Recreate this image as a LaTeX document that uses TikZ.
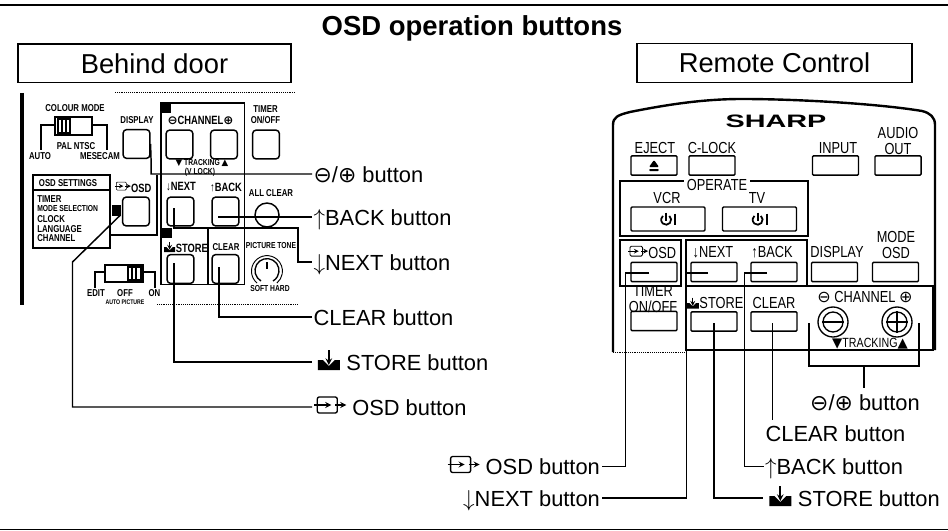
\documentclass[tikz,border=0pt]{standalone}
\usepackage{fontspec}
\setmainfont{Liberation Sans}
\newfontfamily\symfont{DejaVu Sans}
\newfontfamily\panelfont[FakeStretch=.78]{Liberation Sans}
\newfontfamily\remotefont[FakeStretch=.8]{Liberation Sans}
\newfontfamily\brandfont[FakeStretch=1.6]{Liberation Sans}
\newcommand{\osdicon}[1]{\tikz[x=#1*0.75pt,y=#1*0.75pt,baseline={(0,2)},line width=#1*1pt]{
        \draw[rounded corners=#1*1.5pt] (3,0) rectangle (23,16);
        \draw[->,>=stealth] (0,8) -- (17,8);
        \draw[->,>=stealth] (21,8) -- (32,8);}}
\newcommand{\storeicon}[1]{\tikz[x=#1*0.75pt,y=#1*0.75pt,baseline={(0,0)},line width=#1*1.2pt]{
        \fill (0,0) -- (22,0) -- (22,10) -- (17,10) -- (11,4) -- (5,10) -- (0,10) -- cycle;
        \draw[->,>=stealth] (11,20) -- (11,5);}}
\newcommand{\powericon}{\tikz[x=0.75pt,y=0.75pt,baseline={(0,-4)},line width=1.3pt]{
        \draw (3.2,3.8) arc (50:-230:5);
        \draw (0,7) -- (0,-1);
        \draw (9,6) -- (9,-5);}}
\newcommand{\ejecticon}{\tikz[x=0.75pt,y=0.75pt,baseline={(0,-4)}]{
        \fill (-5,-1) -- (5,-1) -- (0,6) -- cycle;
        \fill (-5,-5) rectangle (5,-3);}}
\tikzset{
    rule/.style={line width=1.4pt},
    titlebox/.style={draw, line width=1pt, inner sep=0pt, font=\fontsize{20.5}{24}\selectfont},
    biglabel/.style={inner xsep=1pt, inner ysep=0pt, text height=12pt, text depth=0pt, font=\fontsize{16.4}{18}\selectfont},
    leader/.style={line width=1.1pt},
    frameline/.style={line width=1.1pt},
    doorbtn/.style={draw, line width=1.1pt, rounded corners=2.5pt, inner sep=0pt, minimum width=20pt, minimum height=21.5pt},
    rcbtn/.style={draw, line width=1.1pt, rounded corners=.8pt, inner sep=0pt, minimum width=34.5pt, minimum height=14.5pt},
    rcwide/.style={rcbtn, minimum width=55.5pt, minimum height=18pt},
    doortext/.style={inner sep=0pt, font=\panelfont\bfseries\fontsize{7.5}{8}\selectfont},
    doorbig/.style={inner sep=0pt, font=\panelfont\bfseries\fontsize{9}{10}\selectfont},
    doorsmall/.style={inner sep=0pt, font=\panelfont\bfseries\fontsize{6.5}{7}\selectfont},
    remotetext/.style={inner sep=0pt, font=\remotefont\fontsize{12}{12}\selectfont},
    noise/.style={line width=.4pt, densely dotted}
}
\begin{document}
\begin{tikzpicture}[x=0.75pt,y=-0.75pt]
    \useasboundingbox (0,0) rectangle (948,531);
    \fill[white] (0,0) rectangle (948,531);
    \draw[rule] (0,5) -- (948,5);
    \draw[rule] (0,529.5) -- (948,529.5);
    \node[font=\bfseries\fontsize{20.6}{22}\selectfont, inner sep=0pt] (title) at (472,28) {OSD operation buttons};
    \node[titlebox, minimum width=204.75pt, minimum height=29pt] (behind) at (154.5,63.5) {Behind door};
    \node[titlebox, minimum width=206.25pt, minimum height=29pt] (remote) at (774.5,63) {Remote Control};

    % behind door panel
    \draw[line width=3pt] (21.5,93) -- (21.5,305);
    \draw[noise] (115,92) -- (295,92);
    \draw[noise] (157,304) -- (298,304);
    \node[doortext] (colour) at (75,108) {COLOUR MODE};
    \draw[line width=1.2pt, fill=white] (55,117) rectangle (92,135);
    \draw[line width=1pt] (58,119) rectangle (70,133);
    \draw[line width=1pt] (62,119) -- (62,133) (66,119) -- (66,133);
    \draw[line width=1.2pt] (55,125) -- (41,125) -- (41,150);
    \draw[line width=1.2pt] (92,125) -- (107,125) -- (107,150);
    \node[doortext] (palntsc) at (76,146) {PAL NTSC};
    \node[doortext] (auto) at (40,156.5) {AUTO};
    \node[doortext] (mesecam) at (100,156.5) {MESECAM};
    \node[doortext] (displayt) at (137,120) {DISPLAY};
    \node[doorbtn] (bDisplay) at (136.5,144) {};
    \draw[frameline] (161,103) rectangle (244.5,284.5);
    \fill (161,103) rectangle (171,113);
    \node[doorbig] (channelt) at (200.5,120) {{\symfont ⊖}CHANNEL{\symfont ⊕}};
    \node[doorbtn] (bMinus) at (179.5,144.5) {};
    \node[doorbtn] (bPlus) at (224,144.5) {};
    \node[doortext, align=center] (timert) at (265.5,114.5) {TIMER\\ON/OFF};
    \node[doorbtn] (bTimer) at (266,144.5) {};
    \node[doorsmall] (trackt) at (202,163) {{\symfont ▼} TRACKING {\symfont ▲}};
    \node[doorsmall] (vlock) at (200,172.5) {(V LOCK)};
    \draw[frameline] (33,175) rectangle (110,248);
    \draw[frameline] (33,190) -- (110,190);
    \draw[frameline] (110,235) -- (157,235) -- (157,175);
    \node[doortext] (settings) at (68,183) {OSD SETTINGS};
    \node[doortext, anchor=west] (item1) at (37,199) {TIMER};
    \node[doorsmall, anchor=west] (item2) at (37,209) {MODE SELECTION};
    \node[doortext, anchor=west] (item3) at (37,219) {CLOCK};
    \node[doortext, anchor=west] (item4) at (37,229) {LANGUAGE};
    \node[doortext, anchor=west] (item5) at (37,238.5) {CHANNEL};
    \node[doorbig] (osdt) at (133,187) {\osdicon{.5}OSD};
    \node[doorbtn] (bOsd) at (136,211.5) {};
    \fill (112,205) rectangle (121,216);
    \node[doorbig] (nextt) at (181,187) {↓NEXT};
    \node[doorbtn] (bNext) at (180.5,211.5) {};
    \node[doorbig] (backt) at (226,187) {↑BACK};
    \node[doorbtn] (bBack) at (225.5,211.5) {};
    \node[doortext] (allclear) at (271,193) {ALL CLEAR};
    \node[draw, circle, line width=1.1pt, minimum size=18pt, inner sep=0pt] (bAll) at (267,215) {};
    \fill (161,228) rectangle (172,238);
    \draw[frameline] (208,228) -- (208,284.5);
    \node[doorbig] (storet) at (186,247) {\storeicon{.5}\hspace{.5pt}STORE};
    \node[doorbtn] (bStore) at (180.5,269) {};
    \node[doortext] (cleart) at (226,247) {CLEAR};
    \node[doorbtn] (bClear) at (225.5,269) {};
    \node[doorsmall] (tone) at (271,246) {PICTURE TONE};
    \draw[line width=1pt] (261,281) arc (120:420:12);
    \draw[line width=.7pt] (257,283) arc (130:410:15.5);
    \draw[line width=1.4pt] (267,262) -- (267,269);
    \node[doorsmall] (softhard) at (270,289) {SOFT HARD};
    \draw[line width=1.2pt, fill=white] (105,265) rectangle (143,282);
    \draw[line width=1pt] (128,267) rectangle (141,280);
    \draw[line width=1pt] (132,267) -- (132,280) (136,267) -- (136,280);
    \draw[line width=1.2pt] (105,272) -- (95,272) -- (95,288);
    \draw[line width=1.2pt] (143,272) -- (155,272) -- (155,288);
    \node[doortext] (edit) at (96,293) {EDIT};
    \node[doortext] (off) at (125,293) {OFF};
    \node[doortext] (on) at (154.5,293) {ON};
    \node[inner sep=0pt, font=\panelfont\bfseries\fontsize{5}{6}\selectfont] (autopic) at (125,302.5) {AUTO PICTURE};

    % behind door leaders
    \coordinate (sBack) at (218,217);
    \coordinate (sNext) at (174,208);
    \coordinate (sClear) at (219,267);
    \coordinate (sStore) at (174,263);
    \coordinate (sOsd) at (120.5,215);
    \coordinate (kOsd) at (72.5,262);
    \node[biglabel, anchor=west] (lPm) at (312,174) {{\symfont ⊖}/{\symfont ⊕} button};
    \node[biglabel, anchor=west] (lBack) at (312,217) {$\uparrow$BACK button};
    \node[biglabel, anchor=west] (lNext) at (312,262) {$\downarrow$NEXT button};
    \node[biglabel, anchor=west] (lClear) at (312,317) {CLEAR button};
    \node[biglabel, anchor=west] (lStore) at (311.5,362) {\hspace{3.5pt}\storeicon{1}\hspace{5pt}STORE button};
    \node[biglabel, anchor=west] (lOsd) at (312,407) {\osdicon{1}\hspace{4pt}OSD button};
    \draw[leader] (bDisplay.east) -- ++(0.5,16) |- (lPm.west);
    \draw[leader] (sBack) -- (lBack.west);
    \draw[leader] (sNext) -- (174,228) -- (298,228) |- (lNext.west);
    \draw[leader] (sClear) |- (lClear.west);
    \draw[leader] (sStore) |- (lStore.west);
    \draw[leader] (sOsd) -- (kOsd) |- (lOsd.west);

    % remote control
    \draw[line width=1.8pt] (613,352) -- (613,125) .. controls (613,117) and (618,115) .. (630,112)
        .. controls (670,104) and (705,99) .. (742,99) .. controls (800,99) and (880,104) .. (922,111)
        .. controls (930,113) and (935,117) .. (935,125) -- (935,350);
    \draw[noise] (613,352) -- (686,352);
    \node[font=\brandfont\bfseries\fontsize{13.5}{15}\selectfont, inner sep=0pt] (sharp) at (776,121) {SHARP};
    \node[remotetext] (ejectt) at (655,148) {EJECT};
    \node[rcbtn] (bEject) at (654,165.5) {\ejecticon};
    \node[remotetext] (clockt) at (712,148) {C-LOCK};
    \node[rcbtn] (bClock) at (712,165.5) {};
    \node[remotetext] (inputt) at (838,148) {INPUT};
    \node[rcbtn] (bInput) at (835.5,165.5) {};
    \node[remotetext, align=center] (audiot) at (898,141) {AUDIO\\OUT};
    \node[rcbtn] (bAudio) at (898,165.5) {};
    \draw[frameline] (620,181) rectangle (808,236);
    \node[remotetext, fill=white, inner xsep=2pt] (operate) at (717,185) {OPERATE};
    \node[remotetext] (vcrt) at (667,198) {VCR};
    \node[rcwide] (bVcr) at (668,219) {\powericon};
    \node[remotetext] (tvt) at (757,198) {TV};
    \node[rcwide] (bTv) at (759.5,219) {\powericon};
    \draw[frameline] (620,240) rectangle (681,286);
    \draw[frameline] (686,240) -- (807,240) -- (807,286) -- (933,286) -- (933,350) -- (686,350) -- cycle;
    \draw[frameline] (686,286) -- (807,286);
    \node[remotetext] (osdr) at (652,252) {\osdicon{.62}OSD};
    \node[rcbtn] (rOsd) at (654,272) {};
    \node[remotetext] (nextr) at (713,252) {↓NEXT};
    \node[rcbtn] (rNext) at (714,272) {};
    \node[remotetext] (backr) at (772,252) {↑BACK};
    \node[rcbtn] (rBack) at (774,272) {};
    \node[remotetext] (displayr) at (837,252) {DISPLAY};
    \node[rcbtn] (rDisplay) at (834.5,272) {};
    \node[remotetext, align=center] (moder) at (896,245) {MODE\\OSD};
    \node[rcbtn] (rMode) at (895.5,272) {};
    \node[remotetext, align=center] (timerr) at (653,299) {TIMER\\ON/OFF};
    \node[rcbtn] (rTimer) at (654,321) {};
    \node[remotetext] (storer) at (715,303) {\storeicon{.55}\hspace{.5pt}STORE};
    \node[rcbtn] (rStore) at (714,321.5) {};
    \node[remotetext] (clearr) at (774,303) {CLEAR};
    \node[rcbtn] (rClear) at (774,321.5) {};
    \node[remotetext] (channelr) at (865,297) {{\symfont ⊖} CHANNEL {\symfont ⊕}};
    \node[draw, circle, line width=1pt, minimum size=22.5pt, inner sep=0pt] (rMinus) at (833,322) {};
    \node[draw, circle, line width=1pt, minimum size=15pt, inner sep=0pt] (rMinusIn) at (833,322) {};
    \draw[line width=1pt] (rMinusIn.west) -- (rMinusIn.east);
    \node[draw, circle, line width=1pt, minimum size=22.5pt, inner sep=0pt] (rPlus) at (897,322) {};
    \node[draw, circle, line width=1pt, minimum size=15pt, inner sep=0pt] (rPlusIn) at (897,322) {};
    \draw[line width=1pt] (rPlusIn.west) -- (rPlusIn.east) (rPlusIn.north) -- (rPlusIn.south);
    \node[inner sep=0pt, font=\remotefont\fontsize{10}{11}\selectfont] (trackr) at (870,344) {{\symfont ▼}TRACKING{\symfont ▲}};

    % remote control leaders
    \coordinate (tOsd) at (649,273);
    \coordinate (tNext) at (708,273);
    \coordinate (tBack) at (767,273);
    \coordinate (tStore) at (714,323);
    \coordinate (tClear) at (772.5,323);
    \coordinate (cLeft) at (809,323);
    \coordinate (cRight) at (919,323);
    \coordinate (cMid) at (864,366);
    \node[biglabel, anchor=east] (mOsd) at (601.5,466.5) {\osdicon{1}\hspace{4pt}OSD button};
    \node[biglabel, anchor=east] (mNext) at (601.5,498) {$\downarrow$NEXT button};
    \node[biglabel, anchor=west] (mBack) at (763.5,466.5) {$\uparrow$BACK button};
    \node[biglabel, anchor=west] (mStore) at (763,498) {\hspace{3.5pt}\storeicon{1}\hspace{5pt}STORE button};
    \node[biglabel, anchor=west] (mClear) at (764,433) {CLEAR button};
    \node[biglabel, anchor=center] (mPm) at (865,402) {{\symfont ⊖}/{\symfont ⊕} button};
    \draw[leader] (tOsd) -- (625.5,273) |- (mOsd.east);
    \draw[leader] (tNext) -- (686.5,273) |- (mNext.east);
    \draw[leader] (tBack) -- (744.5,273) |- (mBack.west);
    \draw[leader] (tStore) |- (mStore.west);
    \draw[leader] (tClear) -- ([yshift=3.5pt]tClear |- mClear.north);
    \draw[leader] (cLeft) |- (cMid) -| (cRight);
    \draw[leader] (cMid) -- ([yshift=4.5pt]cMid |- mPm.north);
\end{tikzpicture}
\end{document}
